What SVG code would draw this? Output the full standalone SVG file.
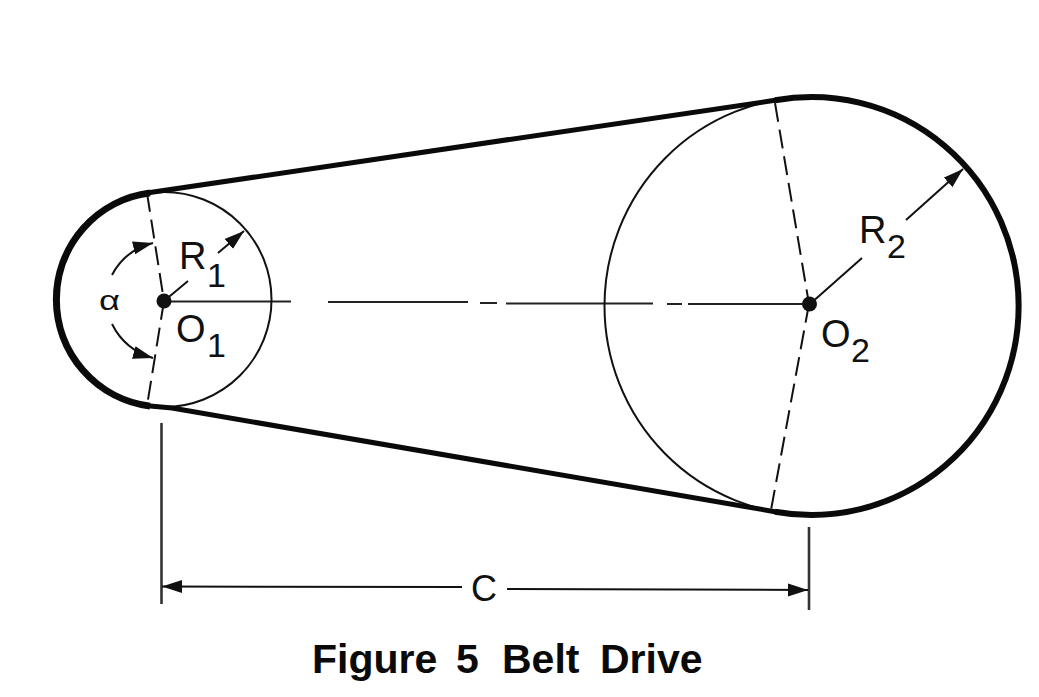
<svg xmlns="http://www.w3.org/2000/svg" width="1039" height="697" viewBox="0 0 1039 697">
<style>
.thin{fill:none;stroke:#111;stroke-width:2}
.ext{fill:none;stroke:#333;stroke-width:2.6}
.centre{fill:none;stroke:#222;stroke-width:2.2}
.belt{fill:none;stroke:#0a0a0a;stroke-width:5;stroke-linecap:round}
.bl{fill:none;stroke:#0a0a0a;stroke-width:7}
.br{fill:none;stroke:#0a0a0a;stroke-width:6}
.dash{fill:none;stroke:#111;stroke-width:2;stroke-dasharray:19 8}
.t{font-family:"Liberation Sans",Arial,sans-serif;fill:#111;font-size:38px}
.d{font-family:"Liberation Sans",Arial,sans-serif;fill:#111;font-size:34px}
.cap{font-family:"Liberation Sans",Arial,sans-serif;fill:#0a0a0a;font-size:41px;font-weight:700}
</style>
<defs><marker id="a" markerWidth="21" markerHeight="14" refX="20" refY="7" orient="auto" markerUnits="userSpaceOnUse"><path d="M0 0.5L20 7L0 13.5Z" fill="#111"/></marker></defs>
<rect width="1039" height="697" fill="#fff"/>
<g id="connectors">
<path class="dash" d="M147 193L164 301"/>
<path class="dash" d="M164 301L147 406"/>
<path class="dash" d="M775 103L809 304"/>
<path class="dash" d="M809 304L771 510"/>
<path class="centre" d="M165 301.5H291M328 302H468M480 303H497M506 303.5H653M667 304H682M688 304H805"/>
<path class="ext" d="M161.500 423V604M809 527V610"/>
<path class="thin" d="M164 301L188 281"/>
<path class="thin" marker-end="url(#a)" d="M218 253L244 231"/>
<path class="thin" marker-end="url(#a)" d="M906 220L963 169"/>
<path class="thin" d="M862 258L810 304"/>
<path class="thin" marker-end="url(#a)" d="M462 587L162 586.500"/>
<path class="thin" marker-end="url(#a)" d="M507 589L808 590"/>
<path class="thin" marker-end="url(#a)" d="M112 275Q125 250 153 243"/>
<path class="thin" marker-end="url(#a)" d="M112 324Q125 350 153 358"/>
</g>
<g id="pulley-1"><circle class="thin" cx="164" cy="299.500" r="107.500"/><circle cx="164" cy="301" r="7.500" fill="#111"/></g>
<g id="pulley-2"><ellipse class="thin" cx="811.500" cy="306" rx="207" ry="209"/><circle cx="809.500" cy="304" r="7.500" fill="#111"/></g>
<g id="belt">
<path class="bl" d="M150 192.900A107.500 107.500 0 0 0 150 406.100"/>
<path class="belt" d="M150 192.500L775 100.300"/>
<path class="belt" d="M150 406L172 408L775 511.700"/>
<path class="br" d="M775 100.300A207 209 0 1 1 775 511.700"/>
</g>
<g id="labels">
<text class="t" x="179" y="269">R</text><text class="d" x="207" y="287">1</text>
<text class="t" x="176" y="341.500">O</text><text class="d" x="207" y="357">1</text>
<text class="t" x="859" y="243">R</text><text class="d" x="887" y="258">2</text>
<text class="t" x="821" y="346.500">O</text><text class="d" x="851" y="362">2</text>
<text class="t" x="99" y="310" style="font-size:27px" textLength="21" lengthAdjust="spacingAndGlyphs">α</text>
<text class="t" x="471" y="601" style="font-size:36px">C</text>
<text class="cap" y="673"><tspan x="312">Figure</tspan> <tspan x="456">5</tspan> <tspan x="502">Belt</tspan> <tspan x="600">Drive</tspan></text>
</g>
</svg>
